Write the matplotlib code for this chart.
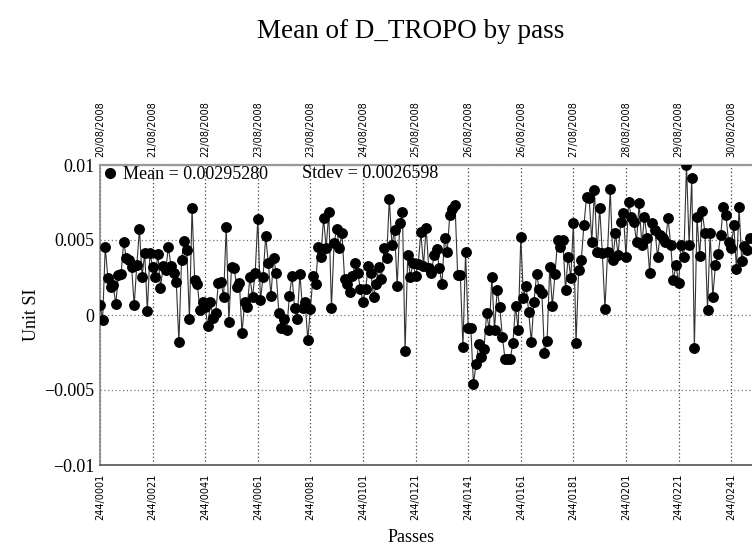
import matplotlib
matplotlib.use("Agg")
import matplotlib.pyplot as plt
from matplotlib.lines import Line2D
import numpy as np

# ---- data (values in units of 1e-3) ----
seg1 = [0.67, -0.33, 4.53, 2.47, 1.87, 2.0, 0.73, 2.67, 2.73, 4.87, 3.8, 3.67, 3.2, 0.67, 3.33,
        5.73, 2.53, 4.13, 0.27, 4.13, 3.2, 2.53, 4.07, 1.8, 3.27, 3.0, 4.53, 3.27,
        2.8, 2.2, -1.8, 3.67, 4.93, 4.33, -0.27, 7.13, 2.33, 2.07, 0.33, 0.87, 0.53, -0.73, 0.87,
        -0.2, 0.13, 2.13, 2.2, 1.2, 5.87, -0.47, 3.2, 3.13, 1.87, 2.13, -1.2, 0.87, 0.53, 2.53,
        1.2, 2.8]
seg2 = [6.4, 1.0, 2.53, 5.27, 3.47, 1.27, 3.8, 2.8, 0.13, -0.87, -0.27, -1.0, 1.27, 2.6, 0.47,
        -0.27, 2.73, 0.47, 0.87, -1.67, 0.4, 2.6, 2.07, 4.53, 3.87, 6.47, 4.47, 6.87, 0.47, 4.8,
        5.73, 4.47, 5.47, 2.4, 2.07, 1.53, 2.6, 3.47, 2.8, 1.73, 0.87, 1.73, 3.27, 2.8, 1.2,
        2.07, 3.2, 2.4, 4.47, 3.8, 7.73, 4.67, 5.67, 1.93, 6.13, 6.87, -2.4, 4.0, 2.53, 3.47]
seg3 = [2.6, 3.4, 5.53, 3.27, 5.8, 3.13, 2.8, 4.0, 4.4, 3.13, 2.07, 5.13, 4.2, 6.67, 7.07, 7.33,
        2.67, 2.67, -2.13, 4.2, -0.87, -0.87, -4.6, -3.27, -1.93, -2.8, -2.27, 0.13, -1.0, 2.53,
        -1.0, 1.67, 0.53, -1.47, -2.93, -2.93, -2.9, -1.87, 0.6, -1.0, 5.2, 1.13, 1.93, 0.2,
        -1.8, 0.87, 2.73, 1.73, 1.47, -2.53, -1.73, 3.2, 0.6, 2.73, 5.0, 4.53, 5.0, 1.67, 3.87,
        2.47, 6.13, -1.87, 3.0, 3.67, 6.0]
seg4 = [7.87, 7.8, 4.87, 8.33, 4.2, 7.13, 4.13, 0.4, 4.2, 8.4, 3.67, 5.47, 4.0, 6.2, 6.8, 3.87,
        7.53, 6.53, 6.2, 4.87, 7.47, 4.67, 6.53, 5.13, 2.8, 6.13, 5.67, 3.87, 5.33, 5.13, 4.87,
        6.47, 4.67, 2.33, 3.33, 2.13, 4.67, 3.87, 10.0, 4.67, 9.13, -2.2, 6.53, 3.93, 6.93, 5.47,
        0.33, 5.47, 1.2, 3.33, 4.07, 5.33, 7.2, 6.67, 4.87, 4.47, 6.0, 3.07, 7.2, 3.6, 4.6, 4.33,
        5.13]
values = np.array(seg1 + seg2 + seg3 + seg4) * 1e-3
passes = np.arange(1, len(values) + 1)

bottom_ticks = [1, 21, 41, 61, 81, 101, 121, 141, 161, 181, 201, 221, 241]
bottom_labels = ["244/0001", "244/0021", "244/0041", "244/0061", "244/0081", "244/0101",
                 "244/0121", "244/0141", "244/0161", "244/0181", "244/0201", "244/0221",
                 "244/0241"]
top_labels = ["20/08/2008", "21/08/2008", "22/08/2008", "23/08/2008", "23/08/2008",
              "24/08/2008", "25/08/2008", "26/08/2008", "26/08/2008", "27/08/2008",
              "28/08/2008", "29/08/2008", "30/08/2008"]
y_ticks = [-0.01, -0.005, 0, 0.005, 0.01]
y_labels = ["\u22120.01", "\u22120.005", "0", "0.005", "0.01"]
mean_text = "Mean = 0.00295280"
stdev_text = "Stdev = 0.0026598"

serif = "Liberation Serif"

fig = plt.figure(figsize=(7.52, 5.48), dpi=100)
W, H = 752, 548
ax_left, ax_right, ax_top, ax_bottom = 100, 800, 165, 465
ax = fig.add_axes([ax_left / W, (H - ax_bottom) / H, (ax_right - ax_left) / W,
                   (ax_bottom - ax_top) / H])

px_per_pass = 2.63
ax.set_xlim(1, 1 + (ax_right - ax_left) / px_per_pass)
ax.set_ylim(-0.01, 0.01)

ax.plot(passes, values, color="#333333", lw=0.8, marker="o", markersize=6.8,
        markerfacecolor="black", markeredgecolor="black", zorder=3, clip_on=True)

ax.set_xticks(bottom_ticks)
ax.set_xticklabels(bottom_labels, rotation=90, fontsize=7, family="DejaVu Sans")
ax.set_yticks(y_ticks)
ax.set_yticklabels(y_labels, fontsize=13, family=serif)
ax.tick_params(axis="both", length=0, pad=4)
ax.tick_params(axis="x", pad=6)

ax.grid(True, axis="x", linestyle=(0, (1, 2)), color="#444444", lw=0.9)
ax.grid(True, axis="y", linestyle=(0, (1, 2)), color="#777777", lw=0.9)

ax.spines["right"].set_visible(False)
ax.spines["left"].set_color("#888888")
ax.spines["left"].set_linewidth(1.2)
ax.spines["top"].set_color("#999999")
ax.spines["top"].set_linewidth(1.6)
ax.spines["bottom"].set_color("#555555")
ax.spines["bottom"].set_linewidth(1.2)

sec = ax.secondary_xaxis("top")
sec.set_xticks(bottom_ticks)
sec.set_xticklabels(top_labels, rotation=90, fontsize=7, family="DejaVu Sans")
sec.tick_params(length=0, pad=6)
sec.spines["top"].set_visible(False)

ax.set_ylabel("Unit SI", fontsize=13, family=serif, labelpad=3)

handle = Line2D([], [], marker="o", ls="none", color="black", markersize=7)
leg = ax.legend([handle], [mean_text], loc="upper left", frameon=False,
                prop={"family": serif, "size": 13}, handletextpad=0.2,
                borderaxespad=0.0, borderpad=0.05, handlelength=1.0,
                bbox_to_anchor=(0.0, 1.0))
ax.text((302 - ax_left) / (ax_right - ax_left), 1 - 8 / (ax_bottom - ax_top), stdev_text,
        transform=ax.transAxes, fontsize=13, family=serif, va="center", ha="left")

fig.text(411 / W, 1 - 32 / H, "Mean of D_TROPO by pass", fontsize=19.5, family=serif,
         ha="center", va="center")
fig.text(411 / W, 1 - 538 / H, "Passes", fontsize=13, family=serif, ha="center", va="center")

fig.savefig("out.png", dpi=100)
